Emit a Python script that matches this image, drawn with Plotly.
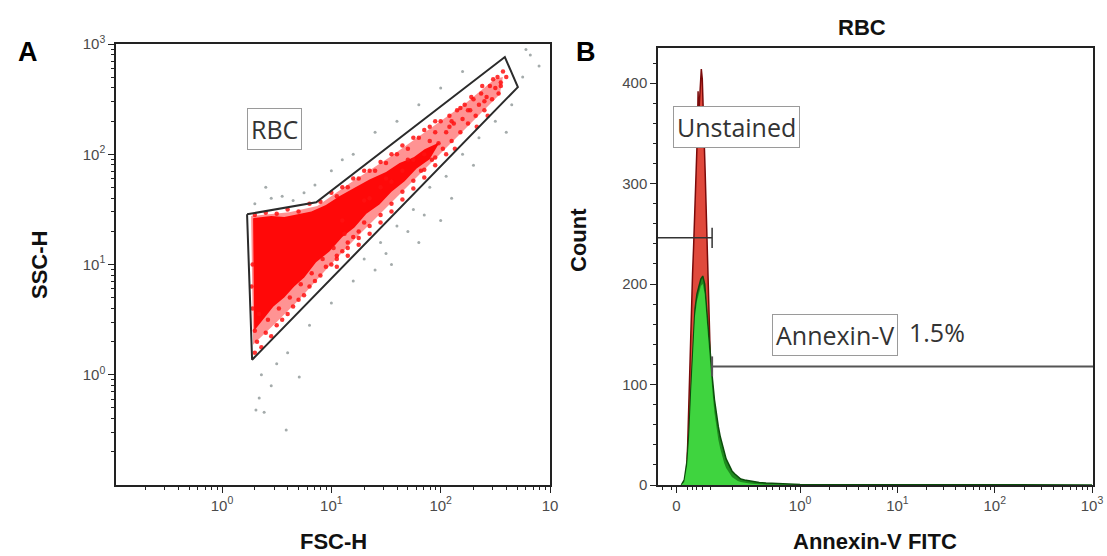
import plotly.graph_objects as go

W, H = 1107, 556

# ---------------- Panel A data (log10 units of FSC-H / SSC-H) ----------------
gate_fsc_log = [0.229, 0.862, 2.587, 2.706, 0.275, 0.229]
gate_ssc_log = [1.455, 1.564, 2.882, 2.609, 0.136, 1.455]

# outline of the moderately dense part of the RBC cloud
band_fsc_log = [0.266, 0.615, 0.872, 1.165, 1.532, 1.899, 2.220, 2.495, 2.569, 2.541, 2.312,
                2.037, 1.761, 1.486, 1.211, 0.936, 0.706, 0.505, 0.339, 0.284, 0.266]
band_ssc_log = [1.440, 1.475, 1.530, 1.735, 1.973, 2.227, 2.455, 2.682, 2.700, 2.545, 2.318,
                2.045, 1.773, 1.500, 1.227, 0.936, 0.682, 0.482, 0.318, 0.273, 1.440]
# outline of the densest core of the RBC cloud
core_fsc_log = [0.284, 0.45, 0.569, 0.70, 0.817, 0.95, 1.073, 1.20, 1.349, 1.50, 1.624, 1.75, 1.853,
                1.991, 1.899, 1.78, 1.670, 1.55, 1.440, 1.32, 1.211, 1.10, 0.982, 0.86, 0.752, 0.66,
                0.569, 0.47, 0.385, 0.294, 0.284]
core_ssc_log = [1.42, 1.44, 1.43, 1.46, 1.48, 1.54, 1.62, 1.69, 1.77, 1.84, 1.92, 1.97, 2.045,
                2.109, 1.955, 1.87, 1.755, 1.66, 1.545, 1.46, 1.336, 1.25, 1.118, 1.02, 0.882, 0.80,
                0.700, 0.62, 0.518, 0.40, 1.42]

red_sparse_fsc_log = [1.95, 2.0, 2.02, 2.05, 2.08, 2.1, 2.12, 2.15, 2.18, 2.2, 2.22, 2.25, 2.27, 2.3,
                      2.32, 2.35, 2.37, 2.4, 2.42, 2.45, 2.47, 2.5, 2.52, 2.55, 2.57, 2.6, 2.48, 2.38,
                      2.28, 2.18, 2.08, 1.98, 1.9, 1.85, 1.8, 1.75, 1.7, 1.65, 1.6, 1.55, 1.5, 1.45,
                      1.4, 1.35, 2.13, 2.33, 2.43, 2.53, 1.92, 1.82]
red_sparse_ssc_log = [2.2, 2.3, 2.05, 2.2, 2.35, 2.12, 2.28, 2.4, 2.2, 2.32, 2.45, 2.28, 2.4, 2.5,
                      2.35, 2.45, 2.55, 2.4, 2.52, 2.62, 2.5, 2.6, 2.7, 2.65, 2.75, 2.7, 2.68, 2.62,
                      2.52, 2.42, 2.25, 2.1, 2.25, 2.0, 2.15, 1.95, 2.05, 1.85, 2.0, 1.75, 1.92, 1.7,
                      1.85, 1.6, 2.05, 2.25, 2.35, 2.55, 1.95, 1.85]

red_edge_fsc_log = [0.3, 0.32, 0.36, 0.4, 0.45, 0.5, 0.55, 0.6, 0.65, 0.7, 0.75, 0.8, 0.85, 0.9, 0.95,
                    1.0, 1.05, 1.1, 1.15, 1.2, 1.25, 1.3, 0.42, 0.52, 0.62, 0.72, 0.82, 0.92, 1.02,
                    1.12, 0.3, 0.34, 0.3, 0.4, 0.5, 0.6, 0.7, 0.8, 0.9, 1.0, 1.1, 1.2, 1.3, 0.28,
                    0.27, 0.28]
red_edge_ssc_log = [0.2, 0.3, 0.25, 0.38, 0.35, 0.45, 0.5, 0.55, 0.62, 0.68, 0.72, 0.8, 0.85, 0.9, 0.98,
                    1.0, 1.08, 1.12, 1.2, 1.25, 1.3, 1.38, 0.5, 0.6, 0.7, 0.82, 0.92, 1.05, 1.15,
                    1.28, 0.4, 0.55, 1.45, 1.47, 1.46, 1.5, 1.48, 1.55, 1.57, 1.65, 1.7, 1.78, 1.85,
                    1.0, 0.8, 0.6]

red_band_fsc_log = [1.05, 1.05, 1.15, 1.15, 1.25, 1.25, 1.35, 1.35, 1.45, 1.45, 1.55, 1.55, 1.65, 1.65,
                    1.75, 1.75, 1.85, 1.85, 1.95, 1.95, 2.05, 1.05, 1.15, 1.25, 1.35, 1.45, 1.55, 1.65,
                    1.75, 1.85, 1.95, 1.10, 1.30, 1.50, 1.70, 1.90, 2.10, 2.25, 2.40, 2.55]
red_band_ssc_log = [0.98, 1.05, 1.08, 1.15, 1.18, 1.24, 1.28, 1.35, 1.38, 1.45, 1.48, 1.55, 1.59, 1.66,
                    1.69, 1.76, 1.79, 1.86, 1.90, 1.97, 2.00, 1.62, 1.70, 1.78, 1.85, 1.93, 2.00, 2.08,
                    2.15, 2.22, 2.30, 1.40, 1.58, 1.78, 1.95, 2.12, 2.30, 2.40, 2.48, 2.62]

grey_fsc_log = [0.3, 0.45, 0.55, 0.65, 0.4, 0.75, 1.0, 1.2, 1.4, 1.6, 1.8, 2.0, 2.2, 1.1, 0.85,
                1.3, 1.45, 1.6, 1.75, 1.9, 2.05, 2.2, 2.35, 2.5, 2.65, 1.5, 1.7, 1.85, 2.1, 1.2,
                1.0, 0.8, 0.6, 0.5, 1.4, 2.3, 2.6, 2.0, 1.8, 1.55,
                0.34, 0.31, 0.385, 0.587, 0.706, 0.45, 0.36, 2.78, 2.82, 2.75, 2.9]
grey_ssc_log = [1.55, 1.6, 1.62, 1.58, 1.7, 1.65, 1.85, 2.0, 2.2, 2.3, 2.45, 2.6, 2.75, 1.95, 1.72,
                1.05, 1.2, 1.35, 1.5, 1.7, 1.8, 2.0, 2.15, 2.3, 2.45, 1.1, 1.3, 1.45, 1.6, 0.85,
                0.65, 0.45, 0.2, 0.1, 0.95, 1.9, 2.2, 1.4, 1.2, 1.0,
                -0.21, -0.32, -0.34, -0.5, -0.02, -0.1, 0.0, 2.95, 2.9, 2.7, 2.8]

log_tick_vals = [1, 10, 100, 1000]
fsc_tick_text = ["10<sup>0</sup>", "10<sup>1</sup>", "10<sup>2</sup>", "10"]
ssc_tick_text = ["10<sup>0</sup>", "10<sup>1</sup>", "10<sup>2</sup>", "10<sup>3</sup>"]

# ---------------- Panel B data (display scale: 0 at -1.27, 10^n at n) ----------------
unstained_x = [-1.19, -1.17, -1.155, -1.145, -1.135, -1.125, -1.115, -1.105, -1.095, -1.085, -1.075,
               -1.065, -1.055, -1.048, -1.042, -1.035, -1.025, -1.015, -1.005, -0.995, -0.985,
               -0.975, -0.965, -0.955, -0.945, -0.935, -0.925, -0.915, -0.905, -0.89, -0.87, -0.85,
               -0.82, -0.78, -0.72, -0.65]
unstained_count = [0, 8, 40, 80, 120, 155, 185, 210, 235, 262, 290, 320, 350, 392, 362, 380, 398,
                   414, 404, 378, 345, 310, 275, 240, 200, 160, 120, 90, 65, 42, 26, 16, 9, 4, 2, 0]

annexin_x = [-1.22, -1.19, -1.16, -1.14, -1.12, -1.10, -1.08, -1.06, -1.04, -1.02, -1.00, -0.98, -0.96,
             -0.94, -0.92, -0.90, -0.88, -0.86, -0.84, -0.82, -0.80, -0.78, -0.76, -0.74, -0.72, -0.70,
             -0.67, -0.64, -0.61, -0.57, -0.52, -0.47, -0.42, -0.35, -0.25, -0.15, 0.0, 0.5, 1.5, 3.0]
annexin_count = [0, 5, 25, 55, 100, 140, 175, 190, 198, 205, 208, 200, 175, 150, 125, 105, 85, 70, 58,
                 48, 40, 32, 26, 22, 18, 14, 11, 8, 6, 5, 4, 3, 2.5, 2, 1.5, 1, 0.5, 0.3, 0.2, 0.1]
annexin_inner_count = [0, 3, 20, 48, 92, 132, 168, 183, 192, 198, 200, 190, 165, 138, 112, 92, 72, 57,
                       45, 36, 28, 22, 17, 14, 11, 8, 6, 4, 3, 2, 1.5, 1, 0.5, 0.3, 0.2, 0, 0, 0, 0, 0]

fitc_tick_vals = [-1.27, 0, 1, 2, 3]
fitc_tick_text = ["0", "10<sup>0</sup>", "10<sup>1</sup>", "10<sup>2</sup>", "10<sup>3</sup>"]
fitc_minor_vals = [-1.41, -1.32, -1.16, -1.11, -1.06, -1.00, -0.92, -0.69, -0.53, -0.44, -0.34,
                   -0.28, -0.21, -0.15, -0.10, -0.05]
fitc_range = [-1.46, 3.01]

unstained_gate = dict(x0=-1.46, x1=-0.904, y=246)
annexin_gate = dict(x0=-0.904, x1=3.01, y=118)
annexin_percent = "1.5%"

# ---------------- figure ----------------
fig = go.Figure()
p = lambda v: [10 ** a for a in v]

fig.add_trace(go.Scatter(x=p(grey_fsc_log), y=p(grey_ssc_log), mode="markers",
                         marker=dict(color="#a4abab", size=3), xaxis="x", yaxis="y",
                         hoverinfo="skip", showlegend=False))
fig.add_trace(go.Scatter(x=p(band_fsc_log), y=p(band_ssc_log), mode="lines", fill="toself",
                         fillcolor="rgba(255,40,40,0.5)", line=dict(width=0),
                         xaxis="x", yaxis="y", hoverinfo="skip", showlegend=False))
fig.add_trace(go.Scatter(x=p(core_fsc_log), y=p(core_ssc_log), mode="lines", fill="toself",
                         fillcolor="rgba(255,0,0,0.95)", line=dict(width=0),
                         xaxis="x", yaxis="y", hoverinfo="skip", showlegend=False))
fig.add_trace(go.Scatter(x=p(red_sparse_fsc_log + red_edge_fsc_log + red_band_fsc_log),
                         y=p(red_sparse_ssc_log + red_edge_ssc_log + red_band_ssc_log),
                         mode="markers",
                         marker=dict(color="#ff1010", size=4.5, opacity=0.85), xaxis="x", yaxis="y",
                         hoverinfo="skip", showlegend=False))
fig.add_trace(go.Scatter(x=p(gate_fsc_log), y=p(gate_ssc_log), mode="lines",
                         line=dict(color="#2b2b2b", width=2), xaxis="x", yaxis="y",
                         hoverinfo="skip", showlegend=False))

# Panel B histograms
fig.add_trace(go.Scatter(x=unstained_x, y=unstained_count, mode="lines", fill="tozeroy",
                         fillcolor="#e0493c", line=dict(color="#7a0a0a", width=1.5),
                         xaxis="x2", yaxis="y2", hoverinfo="skip", showlegend=False))
fig.add_trace(go.Scatter(x=annexin_x, y=annexin_count, mode="lines", fill="tozeroy",
                         fillcolor="#1f8a1f", line=dict(color="#0c4d0c", width=1.5),
                         xaxis="x2", yaxis="y2", hoverinfo="skip", showlegend=False))
fig.add_trace(go.Scatter(x=annexin_x, y=annexin_inner_count, mode="lines", fill="tozeroy",
                         fillcolor="#3fd43f", line=dict(width=0),
                         xaxis="x2", yaxis="y2", hoverinfo="skip", showlegend=False))

g = unstained_gate
fig.add_trace(go.Scatter(x=[g["x0"], g["x1"], None, g["x1"], g["x1"]],
                         y=[g["y"], g["y"], None, g["y"] - 10, g["y"] + 10], mode="lines",
                         line=dict(color="#333", width=1.5), xaxis="x2", yaxis="y2",
                         hoverinfo="skip", showlegend=False))
g = annexin_gate
fig.add_trace(go.Scatter(x=[g["x0"], g["x1"], None, g["x0"], g["x0"]],
                         y=[g["y"], g["y"], None, g["y"] - 10, g["y"] + 10], mode="lines",
                         line=dict(color="#555", width=2), xaxis="x2", yaxis="y2",
                         hoverinfo="skip", showlegend=False))

tickfont = dict(family="Arial", size=15, color="#4a4a4a")
axis_common = dict(showline=True, linecolor="#222", linewidth=1.5, mirror=True,
                   ticks="outside", ticklen=6, tickwidth=1.2, tickcolor="#222",
                   showgrid=False, zeroline=False, tickfont=tickfont, automargin=False)
log_minor = [m * 10 ** k for k in range(-1, 3) for m in range(2, 10)]
fitc_log_minor = [m + k for k in range(0, 3)
                  for m in [0.301, 0.477, 0.602, 0.699, 0.778, 0.845, 0.903, 0.954]]

fig.update_layout(
    width=W, height=H, margin=dict(l=0, r=0, t=0, b=0, autoexpand=False),
    paper_bgcolor="white", plot_bgcolor="white",
    xaxis=dict(type="log", range=[-0.97, 3.0], domain=[116 / W, 550 / W], anchor="y",
               tickmode="array", tickvals=log_tick_vals, ticktext=fsc_tick_text,
               minor=dict(tickmode="array", tickvals=log_minor, ticks="outside", ticklen=3,
                          tickcolor="#222"), **axis_common),
    yaxis=dict(type="log", range=[-1, 3.0], domain=[1 - 485 / H, 1 - 44 / H], anchor="x",
               tickmode="array", tickvals=log_tick_vals, ticktext=ssc_tick_text,
               minor=dict(tickmode="array", tickvals=log_minor, ticks="outside", ticklen=3,
                          tickcolor="#222"), **axis_common),
    xaxis2=dict(range=fitc_range, domain=[658 / W, 1093 / W], anchor="y2",
                tickmode="array", tickvals=fitc_tick_vals, ticktext=fitc_tick_text,
                minor=dict(tickmode="array", tickvals=fitc_minor_vals + fitc_log_minor,
                           ticks="outside", ticklen=3, tickcolor="#222"), **axis_common),
    yaxis2=dict(range=[0, 435], domain=[1 - 485 / H, 1 - 48 / H], anchor="x2",
                tickmode="array", tickvals=[0, 100, 200, 300, 400],
                minor=dict(dtick=20, ticks="outside", ticklen=3, tickcolor="#222"), **axis_common),
)

title_font = dict(family="Arial", size=22, color="#111")
box_font = dict(family="Open Sans", size=25, color="#333")
C = dict(xanchor="center", yanchor="middle", showarrow=False)
ann = [
    dict(text="<b>A</b>", x=28 / W, y=1 - 52 / H, xref="paper", yref="paper",
         font=dict(family="Arial Black, Arial", size=27, color="#000"), **C),
    dict(text="<b>B</b>", x=586 / W, y=1 - 52 / H, xref="paper", yref="paper",
         font=dict(family="Arial Black, Arial", size=27, color="#000"), **C),
    dict(text="<b>RBC</b>", x=862 / W, y=1 - 27 / H, xref="paper", yref="paper",
         font=title_font, **C),
    dict(text="<b>SSC-H</b>", x=40 / W, y=1 - 265 / H, xref="paper", yref="paper",
         textangle=-90, font=title_font, **C),
    dict(text="<b>FSC-H</b>", x=333 / W, y=1 - 541 / H, xref="paper", yref="paper",
         font=title_font, **C),
    dict(text="<b>Count</b>", x=578 / W, y=1 - 240 / H, xref="paper", yref="paper",
         textangle=-90, font=title_font, **C),
    dict(text="<b>Annexin-V FITC</b>", x=875 / W, y=1 - 541 / H, xref="paper", yref="paper",
         font=title_font, **C),
    dict(text="RBC", x=0.477, y=2.227, xref="x", yref="y", font=box_font,
         bgcolor="white", bordercolor="#9a9a9a", borderwidth=1, borderpad=3, **C),
    dict(text="Unstained", x=-0.658, y=356, xref="x2", yref="y2", font=box_font,
         bgcolor="white", bordercolor="#9a9a9a", borderwidth=1, borderpad=3, **C),
    dict(text="Annexin-V", x=0.36, y=149, xref="x2", yref="y2", font=box_font,
         bgcolor="white", bordercolor="#9a9a9a", borderwidth=1, borderpad=3, **C),
    dict(text=annexin_percent, x=1.41, y=152, xref="x2", yref="y2", font=box_font, **C),
]
fig.update_layout(annotations=ann)

fig.write_html("out.html", config={"displayModeBar": False},
               post_script="document.body.style.margin='0px';document.body.style.overflow='hidden';")
